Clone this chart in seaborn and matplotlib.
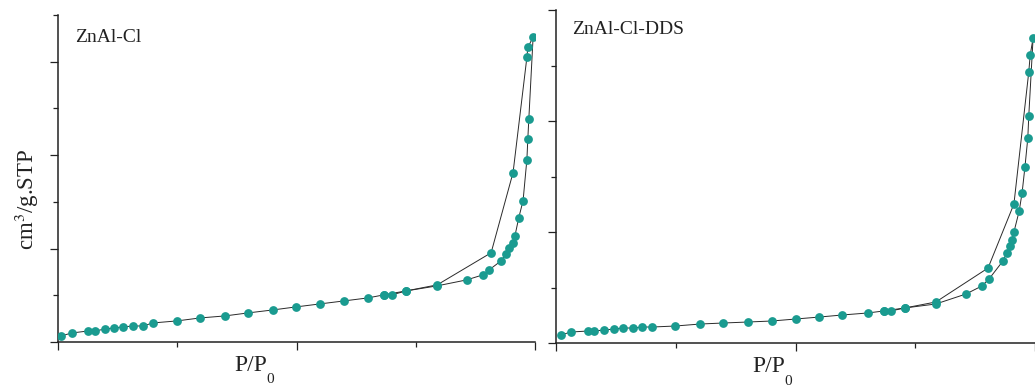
import numpy as np
import pandas as pd
import matplotlib
matplotlib.use("Agg")
import matplotlib.pyplot as plt
import seaborn as sns

# ---------------- data ----------------
left_ads_x = [0.006, 0.029, 0.063, 0.078, 0.099, 0.117, 0.136, 0.157, 0.178, 0.199,
              0.249, 0.298, 0.350, 0.398, 0.451, 0.499, 0.549, 0.600, 0.650, 0.683,
              0.700, 0.730, 0.795, 0.857, 0.891, 0.904, 0.929, 0.939, 0.945, 0.954,
              0.958, 0.966, 0.975, 0.983, 0.985, 0.987, 0.996]
left_ads_y = [1.29, 1.93, 2.36, 2.36, 2.79, 3.00, 3.22, 3.43, 3.43, 4.08,
              4.51, 5.15, 5.58, 6.22, 6.87, 7.51, 8.15, 8.80, 9.44, 10.09,
              10.09, 10.94, 12.02, 13.30, 14.38, 15.45, 17.38, 18.88, 20.17, 21.24,
              22.75, 26.61, 30.26, 39.06, 43.56, 47.64, 65.24]
left_des_x = [0.996, 0.985, 0.983, 0.954, 0.908, 0.795, 0.730, 0.683]
left_des_y = [65.24, 63.09, 60.94, 36.27, 19.10, 12.23, 10.94, 10.09]

right_ads_x = [0.010, 0.031, 0.067, 0.079, 0.100, 0.121, 0.140, 0.161, 0.180, 0.201,
               0.249, 0.301, 0.349, 0.400, 0.450, 0.500, 0.550, 0.598, 0.651, 0.684,
               0.699, 0.728, 0.793, 0.856, 0.889, 0.904, 0.933, 0.941, 0.948, 0.952,
               0.956, 0.967, 0.973, 0.979, 0.985, 0.987, 0.996]
right_ads_y = [1.44, 1.98, 2.16, 2.16, 2.34, 2.52, 2.70, 2.70, 2.88, 2.88,
               3.06, 3.42, 3.60, 3.78, 3.96, 4.32, 4.68, 5.05, 5.41, 5.77,
               5.77, 6.31, 7.03, 8.83, 10.27, 11.53, 14.77, 16.22, 17.48, 18.56,
               20.00, 23.78, 27.03, 31.71, 36.94, 40.90, 54.95]
right_des_x = [0.996, 0.990, 0.987, 0.956, 0.902, 0.793, 0.728, 0.684]
right_des_y = [54.95, 51.89, 48.83, 25.05, 13.51, 7.39, 6.31, 5.77]

titles = ["ZnAl-Cl", "ZnAl-Cl-DDS"]
xlabel_main = "P/P"
xlabel_sub = "0"
ylabel = "cm$^3$/g.STP"

# ---------------- style ----------------
sns.set_style("ticks")
plt.rcParams['font.family'] = ['Liberation Serif', 'DejaVu Serif']
plt.rcParams['mathtext.fontset'] = 'stix'

teal = "#1a9b90"
line_c = "#2a2a2a"
ink = "#222222"

fig = plt.figure(figsize=(10.35, 3.89), dpi=100)
axL = fig.add_axes([58/1035, 47/389, 477/1035, 327/389])
axR = fig.add_axes([556/1035, 46/389, 479/1035, 333/389])

panels = [
    (axL, left_ads_x, left_ads_y, left_des_x, left_des_y, 70),
    (axR, right_ads_x, right_ads_y, right_des_x, right_des_y, 60),
]

for i, (ax, ax_, ay_, dx_, dy_, ytop) in enumerate(panels):
    ads = pd.DataFrame({"x": ax_, "y": ay_})
    des = pd.DataFrame({"x": dx_, "y": dy_})
    sns.lineplot(data=ads, x="x", y="y", sort=False, ax=ax, color=line_c, lw=0.7,
                 estimator=None)
    sns.lineplot(data=des, x="x", y="y", sort=False, ax=ax, color=line_c, lw=0.7,
                 estimator=None)
    sns.scatterplot(data=ads, x="x", y="y", ax=ax, color=teal, s=40, linewidth=0, zorder=3)
    sns.scatterplot(data=des.iloc[1:], x="x", y="y", ax=ax, color=teal, s=40, linewidth=0, zorder=3)

    ax.set_xlim(0, 1)
    ax.set_ylim(0, ytop)
    sns.despine(ax=ax)
    for s in ["left", "bottom"]:
        ax.spines[s].set_linewidth(1.1)
        ax.spines[s].set_color(ink)
    ax.set_xticks([0, 0.5, 1.0])
    ax.set_xticks([0.25, 0.75], minor=True)
    ax.set_yticks(np.arange(0, ytop + 1, 20))
    ax.set_yticks(np.arange(10, ytop + 1, 20), minor=True)
    ax.tick_params(axis="both", which="major", length=6, width=0.9, color=ink,
                   labelbottom=False, labelleft=False)
    ax.tick_params(axis="both", which="minor", length=3.5, width=0.9, color=ink)
    ax.set_xlabel("")
    ax.set_ylabel("")
    ax.text(0.036 if i == 0 else 0.033, 0.957 if i == 0 else 0.966, titles[i],
            transform=ax.transAxes, fontsize=14, va="top", ha="left", color=ink)

for ax, cx in [(axL, 0.405), (axR, 0.445)]:
    ax.text(cx, -0.04, xlabel_main, transform=ax.transAxes, fontsize=17, ha="center",
            va="top", color=ink)
    ax.text(cx + 0.031, -0.095, xlabel_sub, transform=ax.transAxes, fontsize=11,
            ha="left", va="top", color=ink)

axL.text(-0.066, 0.435, ylabel, transform=axL.transAxes, fontsize=16.5, ha="center",
         va="center", rotation=90, color=ink)

fig.savefig("out.png", dpi=100)
